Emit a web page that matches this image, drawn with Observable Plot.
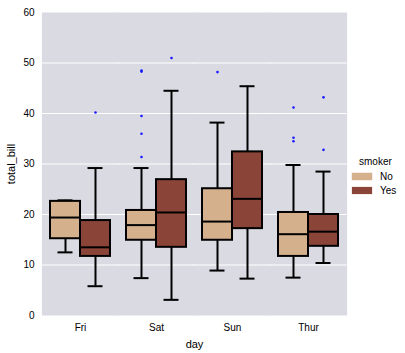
<!DOCTYPE html>
<html><head>
<meta charset="utf-8">
<script src="https://cdn.jsdelivr.net/npm/d3@7"></script>
<script src="https://cdn.jsdelivr.net/npm/@observablehq/plot@0.6"></script>
<style>
body{margin:0;background:#fff;font-family:"Liberation Sans",Arial,sans-serif}
#wrap{position:relative;width:405px;height:353px}
#legend{position:absolute;left:352px;top:155px;font-size:10px;color:#000}
#legend .title{margin-left:7px;height:14px;line-height:14px}
#legend .row{display:flex;align-items:center;height:14px}
#legend .sw{width:20px;height:7px;margin-right:8px;box-shadow:0 0 0 0.5px #f0d8d0}
</style></head><body><div id="wrap"></div>
<script>
const days = ["Fri","Sat","Sun","Thur"];
const smokers = ["No","Yes"];
const colors = ["#d5b08d","#8b4538"];

const groupDay    = ["Fri","Fri","Sat","Sat","Sun","Sun","Thur","Thur"];
const groupSmoker = ["No","Yes","No","Yes","No","Yes","No","Yes"];
const whiskerLow  = [12.5, 5.8, 7.4, 3.1, 8.9, 7.3, 7.5, 10.4];
const q1          = [15.2, 11.7, 14.9, 13.5, 14.9, 17.2, 11.7, 13.7];
const median      = [19.4, 13.5, 17.9, 20.4, 18.6, 23.1, 16.1, 16.6];
const q3          = [22.6, 18.8, 20.8, 26.9, 25.1, 32.4, 20.4, 20.0];
const whiskerHigh = [22.8, 29.2, 29.2, 44.5, 38.2, 45.4, 29.8, 28.5];

const outDay     = ["Fri","Sat","Sat","Sat","Sat","Sat","Sat","Sun","Thur","Thur","Thur","Thur","Thur"];
const outSmoker  = ["Yes","No","No","No","No","No","Yes","No","No","No","No","Yes","Yes"];
const outValue   = [40.2, 48.5, 48.3, 39.5, 36.0, 31.4, 51.0, 48.2, 41.2, 35.2, 34.5, 43.2, 32.8];

const yTicks = [0,10,20,30,40,50,60];
const gridLines = [10,20,30,40,50];

const stats = groupDay.map((d,i)=>({day:d, smoker:groupSmoker[i], lo:whiskerLow[i], q1:q1[i], med:median[i], q3:q3[i], hi:whiskerHigh[i]}));
const outliers = outDay.map((d,i)=>({day:d, smoker:outSmoker[i], v:outValue[i]}));

const bg = "#dadae3";
const chart = Plot.plot({
  width: 405, height: 353,
  marginLeft: 40, marginRight: 58, marginTop: 12, marginBottom: 38,
  style: {fontFamily: "'Liberation Sans', Arial, sans-serif", fontSize: "10px", color: "#000", background: "#fff"},
  fx: {domain: days, padding: 0, axis: "bottom", label: "day", labelAnchor: "center", labelOffset: 32, tickSize: 0, tickPadding: 8},
  x: {domain: smokers, paddingInner: 0, paddingOuter: 0.25, axis: null},
  y: {domain: [0,60], ticks: yTicks, tickSize: 0, tickPadding: 8, label: "total_bill", labelAnchor: "center", labelOffset: 35},
  color: {domain: smokers, range: colors},
  marks: [
    Plot.frame({fill: bg, stroke: null, insetLeft: -0.6, insetRight: -0.6}),
    Plot.ruleY(gridLines, {stroke: "#fff", strokeWidth: 1, insetLeft: -0.6, insetRight: -0.6}),
    Plot.ruleX(stats, {fx: "day", x: "smoker", y1: "lo", y2: "q1", stroke: "#000", strokeWidth: 2}),
    Plot.ruleX(stats, {fx: "day", x: "smoker", y1: "q3", y2: "hi", stroke: "#000", strokeWidth: 2}),
    Plot.tickY(stats, {fx: "day", x: "smoker", y: "lo", stroke: "#000", strokeWidth: 2, insetLeft: 7.5, insetRight: 7.5}),
    Plot.tickY(stats, {fx: "day", x: "smoker", y: "hi", stroke: "#000", strokeWidth: 2, insetLeft: 7.5, insetRight: 7.5}),
    Plot.barY(stats, {fx: "day", x: "smoker", y1: "q1", y2: "q3", fill: "smoker", stroke: "#000", strokeWidth: 2}),
    Plot.tickY(stats, {fx: "day", x: "smoker", y: "med", stroke: "#000", strokeWidth: 2}),
    Plot.dot(outliers, {fx: "day", x: "smoker", y: "v", r: 1.3, fill: "#1a1aff", stroke: null})
  ]
});
const wrap = document.getElementById("wrap");
wrap.appendChild(chart);
d3.select(chart).selectAll("text").each(function(){
  const t = this.textContent.trim();
  if (/total_bill/.test(t)) { this.textContent = "total_bill"; d3.select(this).style("font-size","11px"); }
  if (t === "day" || t === "day →") { this.textContent = "day"; d3.select(this).style("font-size","11px"); }
});
const leg = document.createElement("div");
leg.id = "legend";
leg.innerHTML = `<div class="title">smoker</div>` + smokers.map((s,i)=>`<div class="row"><div class="sw" style="background:${chart.scale("color").apply(s)}"></div><span>${s}</span></div>`).join("");
wrap.appendChild(leg);
</script>
</body></html>
